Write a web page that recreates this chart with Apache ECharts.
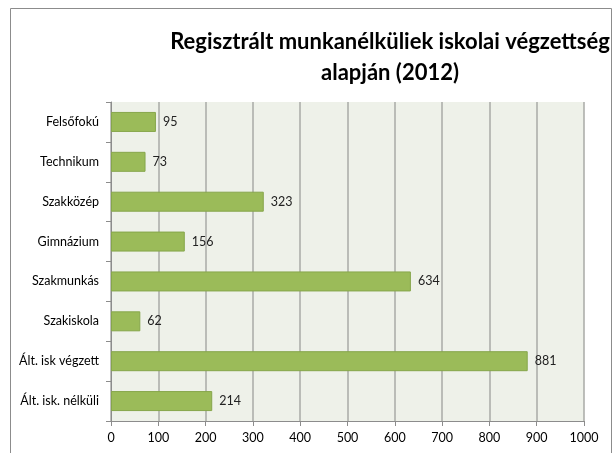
<!DOCTYPE html>
<html>
<head>
<meta charset="utf-8">
<script src="https://cdn.jsdelivr.net/npm/echarts@6/dist/echarts.min.js"></script>
<style>
  html, body { margin: 0; padding: 0; background: #fff; }
  #chart { width: 616px; height: 453px; }
</style>
</head>
<body>
<div id="chart"></div>
<script>
// Végzettség kategóriák (fentről lefelé)
const categories = ['Felsőfokú', 'Technikum', 'Szakközép', 'Gimnázium', 'Szakmunkás', 'Szakiskola', 'Ált. isk végzett', 'Ált. isk. nélküli'];
const values = [95, 73, 323, 156, 634, 62, 881, 214];
const xTicks = [0, 100, 200, 300, 400, 500, 600, 700, 800, 900, 1000];

const font = "Lato, 'Open Sans', sans-serif";

const myChart = echarts.init(document.getElementById('chart'));

const option = {
  animation: false,
  graphic: [
    {
      type: 'rect',
      shape: { x: 10.5, y: 8.5, width: 601, height: 460 },
      style: { fill: 'none', stroke: '#8c8c8c', lineWidth: 1 },
      silent: true
    },
    {
      type: 'text',
      x: 390,
      y: 26,
      style: {
        text: 'Regisztrált munkanélküliek iskolai végzettség\nalapján (2012)',
        font: "bold 22px Lato, 'Open Sans', sans-serif",
        fill: '#000',
        align: 'center',
        verticalAlign: 'top',
        lineHeight: 31
      },
      silent: true
    }
  ],
  grid: {
    left: 111, right: 32, top: 102, bottom: 32,
    show: true,
    backgroundColor: '#eef1e9',
    borderWidth: 0
  },
  xAxis: {
    type: 'value',
    min: xTicks[0],
    max: xTicks[xTicks.length - 1],
    interval: 100,
    axisLine: { show: true, lineStyle: { color: '#8c8c8c' } },
    axisTick: { show: true, length: 5, lineStyle: { color: '#8c8c8c' } },
    axisLabel: { color: '#000', fontFamily: font, fontSize: 12.5, margin: 10, formatter: v => String(v) },
    splitLine: { show: true, lineStyle: { color: '#a8aaa6', width: 1.5 } }
  },
  yAxis: {
    type: 'category',
    data: categories,
    inverse: true,
    axisLine: { show: true, lineStyle: { color: '#8c8c8c' } },
    axisTick: { show: true, length: 5, lineStyle: { color: '#8c8c8c' } },
    axisLabel: { color: '#000', fontFamily: font, fontSize: 12.5, margin: 12 },
    splitLine: { show: false }
  },
  series: [{
    type: 'bar',
    data: values,
    barWidth: 20,
    itemStyle: { color: '#9bbb59', borderColor: '#86a64b', borderWidth: 1 },
    label: {
      show: true,
      position: 'right',
      distance: 7,
      color: '#222',
      fontFamily: font,
      fontSize: 12.5
    }
  }]
};

myChart.setOption(option);
</script>
</body>
</html>
